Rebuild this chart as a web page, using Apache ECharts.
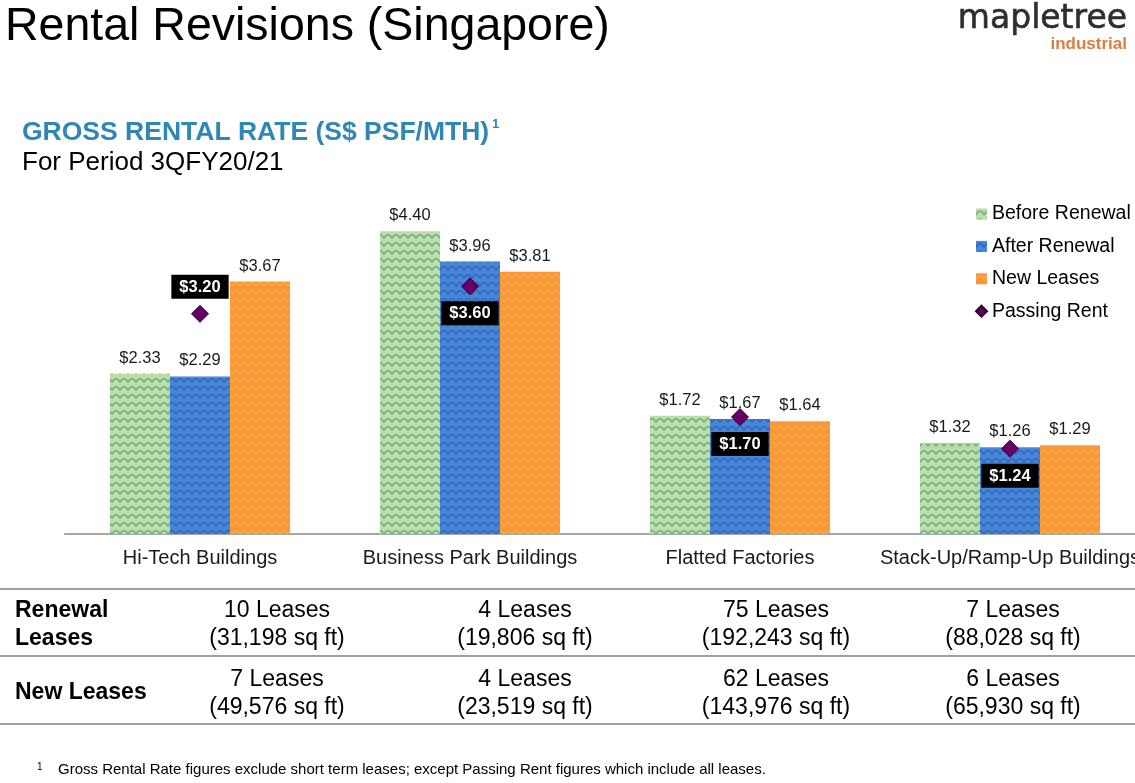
<!DOCTYPE html>
<html><head><meta charset="utf-8">
<script src="https://cdn.jsdelivr.net/npm/echarts@6/dist/echarts.min.js"></script>
<style>html,body{margin:0;padding:0;background:#fff;overflow:hidden}#c{width:1150px;height:783px}</style>
</head><body><div id="c"></div>
<script>
// ---- data ----
const categories = ['Hi-Tech Buildings', 'Business Park Buildings', 'Flatted Factories', 'Stack-Up/Ramp-Up Buildings'];
const beforeRenewal = [2.33, 4.40, 1.72, 1.32];
const afterRenewal = [2.29, 3.96, 1.67, 1.26];
const newLeases = [3.67, 3.81, 1.64, 1.29];
const passingRent = [3.20, 3.60, 1.70, 1.24];
const seriesNames = ['Before Renewal', 'After Renewal', 'New Leases', 'Passing Rent'];
const renewalCounts = ['10 Leases', '4 Leases', '75 Leases', '7 Leases'];
const renewalAreas = ['(31,198 sq ft)', '(19,806 sq ft)', '(192,243 sq ft)', '(88,028 sq ft)'];
const newCounts = ['7 Leases', '4 Leases', '62 Leases', '6 Leases'];
const newAreas = ['(49,576 sq ft)', '(23,519 sq ft)', '(143,976 sq ft)', '(65,930 sq ft)'];

// ---- styling ----
const FONT = '"Liberation Sans", Arial, sans-serif';
function pattern(base, line) {
  const c = document.createElement('canvas');
  c.width = 8; c.height = 8;
  const g = c.getContext('2d');
  g.fillStyle = base; g.fillRect(0, 0, 8, 8);
  g.strokeStyle = line; g.lineWidth = 1.6;
  g.beginPath();
  g.moveTo(0, 6.5); g.quadraticCurveTo(4, -1.5, 8, 6.5);
  g.stroke();
  return { image: c, repeat: 'repeat' };
}
const greenFill = pattern('#c4dc9c', '#5eb4a3');
const blueFill = pattern('#4a86d6', '#2d69c0');
const orangeFill = pattern('#f7963f', '#f9ad33');
const passingLabelPos = ['top', 'bottom', 'bottom', 'bottom'];
const fmt = p => '$' + Number(p.value).toFixed(2);

const barLabel = { show: true, position: 'top', distance: 7, color: '#1a1a1a', fontSize: 16.5, fontFamily: FONT, formatter: fmt };

const tableX = [277, 525, 776, 1013];
const graphics = [
  { type: 'text', left: 5, top: 4, style: { text: 'Rental Revisions (Singapore)', font: '46.5px ' + FONT, fill: '#000' } },
  { type: 'text', x: 1127, y: 3, style: { text: 'mapletree', font: '33px "DejaVu Sans", sans-serif', fill: '#2e2e2e', stroke: '#2e2e2e', lineWidth: 0.6, align: 'right', verticalAlign: 'top' } },
  { type: 'text', x: 1127, y: 36, style: { text: 'industrial', font: 'bold 17px ' + FONT, fill: '#d9803f', align: 'right', verticalAlign: 'top' } },
  { type: 'text', left: 22, top: 119, style: { text: 'GROSS RENTAL RATE (S$ PSF/MTH)', font: 'bold 26.5px ' + FONT, fill: '#2f87b6' } },
  { type: 'text', left: 492, top: 118, style: { text: '1', font: 'bold 13px ' + FONT, fill: '#2f87b6' } },
  { type: 'text', left: 22, top: 150, style: { text: 'For Period 3QFY20/21', font: '26px ' + FONT, fill: '#000' } },
  { type: 'line', shape: { x1: 0, y1: 589, x2: 1150, y2: 589 }, style: { stroke: '#a0a0a0', lineWidth: 2 } },
  { type: 'line', shape: { x1: 0, y1: 656, x2: 1150, y2: 656 }, style: { stroke: '#a0a0a0', lineWidth: 2 } },
  { type: 'line', shape: { x1: 0, y1: 724, x2: 1150, y2: 724 }, style: { stroke: '#a0a0a0', lineWidth: 2 } },
  { type: 'text', x: 15, y: 625, style: { text: 'Renewal\nLeases', font: 'bold 23px ' + FONT, lineHeight: 28, fill: '#000', verticalAlign: 'middle', align: 'left' } },
  { type: 'text', x: 15, y: 693, style: { text: 'New Leases', font: 'bold 23px ' + FONT, fill: '#000', verticalAlign: 'middle', align: 'left' } },
  { type: 'text', x: 37, y: 767, style: { text: '1', font: '10px ' + FONT, fill: '#000', verticalAlign: 'middle' } },
  { type: 'text', x: 58, y: 770, style: { text: 'Gross Rental Rate figures exclude short term leases; except Passing Rent figures which include all leases.', font: '15px ' + FONT, fill: '#000', verticalAlign: 'middle' } }
];
tableX.forEach((x, i) => {
  graphics.push({ type: 'text', x: x, y: 625, style: { text: renewalCounts[i] + '\n' + renewalAreas[i], font: '23px ' + FONT, lineHeight: 28, fill: '#000', align: 'center', verticalAlign: 'middle' } });
  graphics.push({ type: 'text', x: x, y: 694, style: { text: newCounts[i] + '\n' + newAreas[i], font: '23px ' + FONT, lineHeight: 28, fill: '#000', align: 'center', verticalAlign: 'middle' } });
});

const chart = echarts.init(document.getElementById('c'));
chart.setOption({
  animation: false,
  backgroundColor: '#fff',
  textStyle: { fontFamily: FONT },
  grid: { left: 65, width: 1080, top: 190, bottom: 249, containLabel: false },
  legend: {
    orient: 'vertical', left: 975, top: 203, padding: 0, itemGap: 10.4, itemWidth: 11, itemHeight: 11,
    textStyle: { fontSize: 19.5, color: '#000', fontFamily: FONT, lineHeight: 22 },
    data: [
      { name: seriesNames[0], icon: 'rect' },
      { name: seriesNames[1], icon: 'rect' },
      { name: seriesNames[2], icon: 'rect' },
      { name: seriesNames[3], icon: 'diamond' }
    ]
  },
  xAxis: {
    type: 'category', data: categories,
    axisLine: { lineStyle: { color: '#a6a6a6', width: 2 } },
    axisTick: { show: false },
    axisLabel: { color: '#1a1a1a', fontSize: 20, margin: 14, interval: 0 }
  },
  yAxis: { type: 'value', min: 0, max: 5, show: false, splitLine: { show: false } },
  series: [
    { name: seriesNames[0], type: 'bar', data: beforeRenewal, barGap: '0%', barCategoryGap: '33.33%', itemStyle: { color: greenFill }, label: barLabel },
    { name: seriesNames[1], type: 'bar', data: afterRenewal, barGap: '0%', barCategoryGap: '33.33%', itemStyle: { color: blueFill }, label: barLabel },
    { name: seriesNames[2], type: 'bar', data: newLeases, barGap: '0%', barCategoryGap: '33.33%', itemStyle: { color: orangeFill }, label: barLabel },
    {
      name: seriesNames[3], type: 'scatter', z: 5, symbol: 'diamond', symbolSize: [17, 17],
      itemStyle: { color: '#660066', borderColor: '#2e002e', borderWidth: 1, opacity: 1 },
      data: passingRent.map((v, i) => ({ value: v, label: { position: passingLabelPos[i] } })),
      label: { show: true, formatter: fmt, distance: 6, backgroundColor: '#000', color: '#fff', fontWeight: 'bold', fontSize: 16.5, padding: [4, 8, 3, 8], fontFamily: FONT }
    }
  ],
  graphic: graphics
});
</script>
</body></html>
